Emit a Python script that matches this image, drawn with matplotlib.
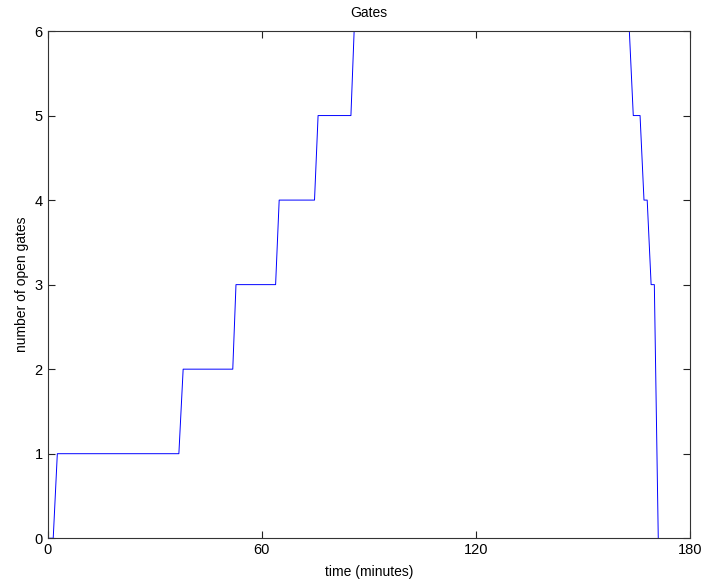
import matplotlib
matplotlib.use("Agg")
from matplotlib import pyplot as plt

# time (minutes) and number of open gates
time_min = [0.0, 1.6, 2.75, 36.8, 38.0, 51.9, 52.8, 63.9, 64.9, 74.8, 75.8,
            85.0, 85.9, 86.8, 162.1, 163.0, 164.1, 166.0, 167.1, 168.0,
            169.1, 170.0, 171.1]
open_gates = [0, 0, 1, 1, 2, 2, 3, 3, 4, 4, 5,
              5, 6, 7, 7, 6, 5, 5, 4, 4,
              3, 3, 0]

xticks = [0, 60, 120, 180]
yticks = [0, 1, 2, 3, 4, 5, 6]

plt.rcParams['font.family'] = ['Liberation Sans', 'DejaVu Sans']

fig = plt.figure(figsize=(7.07, 5.82), dpi=100)
ax = fig.add_axes([0.0672, 0.0752, 0.9088, 0.8715])
ax.plot(time_min, open_gates, color='#0000ff', linewidth=0.7)
ax.axis([0, 180, 0, 6])
ax.set_xticks(xticks)
ax.set_yticks(yticks)
ax.tick_params(direction='in', top=True, right=True, length=5,
               width=0.8, colors='#222222', labelsize=10.5, labelcolor='black')
for s in ax.spines.values():
    s.set_color('#333333')
    s.set_linewidth(0.8)
ax.set_xlabel('time (minutes)', fontsize=10, labelpad=6)
ax.set_ylabel('number of open gates', fontsize=10, labelpad=4)
ax.set_title('Gates', fontsize=10, pad=10)

fig.savefig('out.png', dpi=100, facecolor='white')
